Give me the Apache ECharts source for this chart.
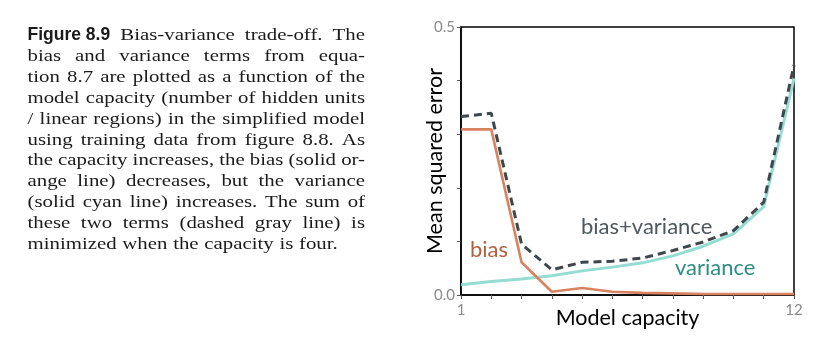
<!DOCTYPE html>
<html><head><meta charset="utf-8">
<script src="https://cdn.jsdelivr.net/npm/echarts@6/dist/echarts.min.js"></script>
<style>html,body{margin:0;padding:0;background:#fff;}#c{width:813px;height:344px;}</style>
</head><body><div id="c"></div>
<script>
// ---- data ----
const capacity = [1,2,3,4,5,6,7,8,9,10,11,12];
const biasValues = [0.309,0.309,0.061,0.006,0.013,0.006,0.004,0.003,0.002,0.002,0.002,0.002];
const varianceValues = [0.019,0.025,0.030,0.036,0.045,0.052,0.060,0.073,0.091,0.114,0.165,0.404];
const sumValues = [0.333,0.339,0.095,0.047,0.061,0.063,0.069,0.083,0.099,0.120,0.173,0.429];
const xTickLabels = {1:'1', 12:'12'};
const yTickLabels = {0:'0.0', 0.5:'0.5'};
const captionLines = [
  [['Figure 8.9', true], ['Bias-variance'], ['trade-off.'], ['The']],
  'bias and variance terms from equa-',
  'tion 8.7 are plotted as a function of the',
  'model capacity (number of hidden units',
  '/ linear regions) in the simplified model',
  'using training data from figure 8.8. As',
  'the capacity increases, the bias (solid or-',
  'ange line) decreases, but the variance',
  '(solid cyan line) increases. The sum of',
  'these two terms (dashed gray line) is',
  'minimized when the capacity is four.'
];

const zip = (a, b) => a.map((v, i) => [v, b[i]]);

// ---- caption layout (justified) ----
const SERIF = '"Liberation Serif", "DejaVu Serif", serif';
const SANS_B = '"Liberation Sans", Arial, sans-serif';
const FS = 17.5;
const SX = 1.19;
const ctx = document.createElement('canvas').getContext('2d');
function measure(t, bold) {
  ctx.font = (bold ? 'bold ' : '') + FS + 'px ' + (bold ? SANS_B : SERIF);
  return ctx.measureText(t).width * (bold ? 1 : SX);
}
const capX0 = 27.5, capX1 = 365, capY0 = 35.5, capDy = 20.9;
const graphics = [];
captionLines.forEach((line, li) => {
  const toks = Array.isArray(line) ? line : line.split(' ').map(w => [w]);
  const widths = toks.map(t => measure(t[0], t[1]));
  const total = widths.reduce((a, b) => a + b, 0);
  const last = li === captionLines.length - 1;
  const gap = last ? measure(' ', false) * 1.1 : (capX1 - capX0 - total) / (toks.length - 1);
  let x = capX0;
  toks.forEach((t, i) => {
    graphics.push({
      type: 'text', x: x, y: capY0 + li * capDy, scaleX: t[1] ? 1 : SX, scaleY: 1,
      style: { x: 0, y: 0, text: t[0], fill: '#1a1a1a', fontSize: FS, verticalAlign: 'middle', align: 'left',
        fontFamily: t[1] ? SANS_B : SERIF, fontWeight: t[1] ? 'bold' : 'normal' }
    });
    x += widths[i] + gap;
  });
});

const LBL = 'Lato, "Noto Sans", sans-serif';
const lblStyle = (text, fill) => ({ text, fill, fontSize: 22, fontFamily: LBL, verticalAlign: 'middle', x: 0, y: 0 });
graphics.push(
  { type: 'text', x: 470, y: 250, style: lblStyle('bias', '#b45e3e') },
  { type: 'text', x: 581, y: 227, style: lblStyle('bias+variance', '#4d575c') },
  { type: 'text', x: 675, y: 268, style: lblStyle('variance', '#2e8d83') }
);

const chart = echarts.init(document.getElementById('c'), null, { renderer: 'canvas' });
chart.setOption({
  animation: false,
  backgroundColor: '#fff',
  grid: { left: 461, right: 19, top: 27, bottom: 49, show: true, borderColor: '#000', borderWidth: 1.5 },
  xAxis: {
    type: 'value', min: 1, max: 12, interval: 1,
    name: 'Model capacity', nameLocation: 'middle', nameGap: 12, nameMoveOverlap: false,
    nameTextStyle: { fontSize: 21.5, color: '#000', fontFamily: LBL },
    axisLine: { lineStyle: { color: '#000', width: 1.5 } },
    axisTick: { show: true, length: 4, lineStyle: { color: '#555', width: 1 } },
    axisLabel: { formatter: v => xTickLabels[v] || '', color: '#8a8a8a', fontSize: 15, fontFamily: LBL, margin: 8 },
    splitLine: { show: false }
  },
  yAxis: {
    type: 'value', min: 0, max: 0.5, interval: 0.1,
    name: 'Mean squared error', nameLocation: 'middle', nameGap: 15, nameRotate: 90, nameMoveOverlap: false,
    nameTextStyle: { fontSize: 21.5, color: '#000', fontFamily: LBL },
    axisLine: { show: true, lineStyle: { color: '#000', width: 1.5 } },
    axisTick: { show: true, length: 4, lineStyle: { color: '#555', width: 1 } },
    axisLabel: { formatter: v => yTickLabels[Math.round(v * 10) / 10] || '', color: '#8a8a8a', fontSize: 15, fontFamily: LBL, margin: 6 },
    splitLine: { show: false }
  },
  series: [
    { name: 'variance', type: 'line', data: zip(capacity, varianceValues), symbol: 'none',
      lineStyle: { color: '#95dcd3', width: 3 } },
    { name: 'bias', type: 'line', data: zip(capacity, biasValues), symbol: 'none',
      lineStyle: { color: '#d9825f', width: 2.6 } },
    { name: 'bias+variance', type: 'line', data: zip(capacity, sumValues), symbol: 'none',
      lineStyle: { color: '#3d474c', width: 3, type: [8, 5] } }
  ],
  graphic: graphics
});
</script></body></html>
